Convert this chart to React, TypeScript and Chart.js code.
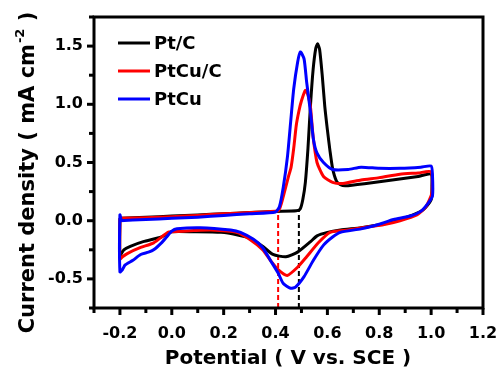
import React, { useEffect, useRef } from "react";
import { Chart, registerables } from "chart.js";

Chart.register(...registerables);

// Pt/C (black)
const ptcPotential = [-0.2, -0.1, 0.0, 0.1, 0.2, 0.3, 0.4, 0.48, 0.495, 0.505, 0.515, 0.525, 0.535, 0.545, 0.555, 0.562, 0.57, 0.58, 0.59, 0.6, 0.61, 0.62, 0.635, 0.65, 0.67, 0.75, 0.85, 0.95, 1.0, 1.003, 1.0, 0.97, 0.93, 0.85, 0.8, 0.73, 0.65, 0.6, 0.56, 0.535, 0.485, 0.44, 0.39, 0.35, 0.3, 0.25, 0.19, 0.085, 0.0, -0.04, -0.11, -0.16, -0.185, -0.2, -0.2];
const ptcCurrent = [0.02, 0.03, 0.04, 0.05, 0.06, 0.07, 0.08, 0.085, 0.1, 0.18, 0.33, 0.62, 1.0, 1.3, 1.48, 1.52, 1.47, 1.25, 0.98, 0.78, 0.6, 0.45, 0.34, 0.31, 0.3, 0.32, 0.35, 0.38, 0.4, 0.3, 0.18, 0.095, 0.05, -0.01, -0.035, -0.06, -0.08, -0.1, -0.13, -0.18, -0.27, -0.31, -0.29, -0.22, -0.15, -0.12, -0.1, -0.095, -0.095, -0.14, -0.18, -0.22, -0.25, -0.3, 0.02];

// PtCu/C (red)
const ptcucPotential = [-0.2, -0.1, 0.0, 0.1, 0.2, 0.3, 0.41, 0.42, 0.43, 0.45, 0.46, 0.47, 0.48, 0.49, 0.5, 0.515, 0.525, 0.535, 0.545, 0.56, 0.585, 0.62, 0.66, 0.73, 0.8, 0.88, 0.95, 1.0, 1.003, 0.98, 0.945, 0.88, 0.815, 0.765, 0.68, 0.61, 0.565, 0.52, 0.485, 0.445, 0.41, 0.38, 0.35, 0.3, 0.25, 0.15, 0.085, 0.0, -0.015, -0.07, -0.12, -0.17, -0.19, -0.2, -0.2];
const ptcucCurrent = [0.02, 0.025, 0.035, 0.045, 0.06, 0.07, 0.085, 0.13, 0.21, 0.38, 0.46, 0.62, 0.82, 0.94, 1.03, 1.12, 1.08, 0.97, 0.72, 0.5, 0.38, 0.33, 0.32, 0.35, 0.37, 0.4, 0.41, 0.42, 0.24, 0.12, 0.05, 0.0, -0.035, -0.05, -0.08, -0.1, -0.19, -0.31, -0.4, -0.47, -0.42, -0.34, -0.25, -0.16, -0.1, -0.08, -0.085, -0.095, -0.1, -0.19, -0.23, -0.28, -0.31, -0.33, 0.02];

// PtCu (blue)
const ptcuPotential = [-0.2, -0.1, 0.0, 0.1, 0.2, 0.3, 0.4, 0.415, 0.43, 0.446, 0.458, 0.47, 0.485, 0.496, 0.51, 0.52, 0.535, 0.546, 0.56, 0.585, 0.62, 0.68, 0.73, 0.8, 0.88, 0.96, 1.0, 1.005, 1.005, 0.985, 0.96, 0.92, 0.855, 0.8, 0.73, 0.65, 0.62, 0.585, 0.546, 0.51, 0.477, 0.458, 0.43, 0.41, 0.38, 0.35, 0.315, 0.265, 0.227, 0.11, 0.02, 0.0, -0.02, -0.04, -0.07, -0.09, -0.12, -0.15, -0.18, -0.19, -0.2, -0.2, -0.195];
const ptcuCurrent = [0.0, 0.01, 0.02, 0.03, 0.045, 0.06, 0.075, 0.12, 0.29, 0.55, 0.84, 1.13, 1.36, 1.45, 1.39, 1.19, 0.93, 0.7, 0.58, 0.5, 0.44, 0.44, 0.46, 0.45, 0.45, 0.46, 0.47, 0.4, 0.21, 0.14, 0.08, 0.04, 0.01, -0.03, -0.07, -0.1, -0.14, -0.21, -0.34, -0.48, -0.57, -0.58, -0.54, -0.45, -0.34, -0.23, -0.16, -0.1, -0.08, -0.06, -0.07, -0.09, -0.14, -0.19, -0.25, -0.27, -0.29, -0.34, -0.38, -0.42, -0.44, 0.05, 0.0];

// onset markers (dashed): red at PtCu/C, black at Pt/C
const onsetPotentials = [0.41, 0.49];
const onsetCurrents = [0.085, 0.085];
const onsetColors = ["#ff0000", "#000000"];

const seriesLabels = ["Pt/C", "PtCu/C", "PtCu"];
const seriesColors = ["#000000", "#ff0000", "#0000ff"];

const xMin = -0.3, xMax = 1.2, xStep = 0.1;
const yMin = -0.75, yMax = 1.75, yStep = 0.25;

const FONT = '"DejaVu Sans", sans-serif';

const toPoints = (xs: number[], ys: number[]) => xs.map((x, i) => ({ x, y: ys[i] }));

const isMajorX = (v: number) => Math.abs(Math.round(v * 10)) % 2 === 0 && v > xMin + 1e-6;
const isMajorY = (v: number) => Math.abs(Math.round(v * 4)) % 2 === 0;
const fmt = (v: number) => (Math.abs(v) < 1e-9 ? "0.0" : v.toFixed(1));

const decorPlugin = {
  id: "decor",
  afterDraw(chart: any) {
    const { ctx, chartArea } = chart;
    const xs = chart.scales.x;
    const ys = chart.scales.y;
    ctx.save();
    ctx.strokeStyle = "#000";
    ctx.lineWidth = 3;
    ctx.strokeRect(chartArea.left, chartArea.top, chartArea.right - chartArea.left, chartArea.bottom - chartArea.top);
    xs.ticks.forEach((t: any) => {
      const px = xs.getPixelForValue(t.value);
      const major = isMajorX(t.value);
      ctx.lineWidth = 3;
      ctx.beginPath();
      ctx.moveTo(px, chartArea.bottom);
      ctx.lineTo(px, chartArea.bottom + (major ? 7 : 5));
      ctx.stroke();
    });
    ys.ticks.forEach((t: any) => {
      const py = ys.getPixelForValue(t.value);
      const major = isMajorY(t.value);
      ctx.lineWidth = 3;
      ctx.beginPath();
      ctx.moveTo(chartArea.left, py);
      ctx.lineTo(chartArea.left - (major ? 7 : 5), py);
      ctx.stroke();
    });
    const legX = 118, legY = 43, legGap = 28;
    seriesLabels.forEach((lab, i) => {
      const y = legY + i * legGap;
      ctx.strokeStyle = seriesColors[i];
      ctx.lineWidth = 3;
      ctx.beginPath();
      ctx.moveTo(legX, y);
      ctx.lineTo(legX + 32, y);
      ctx.stroke();
      ctx.fillStyle = "#000";
      ctx.font = `bold 18px ${FONT}`;
      ctx.textAlign = "left";
      ctx.textBaseline = "middle";
      ctx.fillText(lab, legX + 36, y + 1);
    });
    ctx.fillStyle = "#000";
    ctx.font = `bold 20px ${FONT}`;
    ctx.textAlign = "center";
    ctx.textBaseline = "alphabetic";
    ctx.fillText("Potential ( V vs. SCE )", 288, 364);
    ctx.save();
    ctx.translate(34, 173);
    ctx.rotate(-Math.PI / 2);
    const p1 = "Current density ( mA cm";
    const sup = "-2";
    const p2 = " )";
    ctx.font = `bold 21px ${FONT}`;
    const w1 = ctx.measureText(p1).width;
    const w3 = ctx.measureText(p2).width;
    ctx.font = `bold 13px ${FONT}`;
    const w2 = ctx.measureText(sup).width;
    const x0 = -(w1 + w2 + w3) / 2;
    ctx.textAlign = "left";
    ctx.font = `bold 21px ${FONT}`;
    ctx.fillText(p1, x0, 0);
    ctx.font = `bold 13px ${FONT}`;
    ctx.fillText(sup, x0 + w1 + 1, -10);
    ctx.font = `bold 21px ${FONT}`;
    ctx.fillText(p2, x0 + w1 + w2 + 1, 0);
    ctx.restore();
    ctx.restore();
  },
};

export default function App() {
  const ref = useRef<HTMLCanvasElement>(null);
  useEffect(() => {
    if (!ref.current) return;
    const curve = (i: number, xs: number[], ys: number[], order: number) => ({
      label: seriesLabels[i],
      data: toPoints(xs, ys),
      showLine: true,
      borderColor: seriesColors[i],
      backgroundColor: seriesColors[i],
      borderWidth: 3,
      pointRadius: 0,
      tension: 0.2,
      fill: false,
      order,
    });
    const dashed = onsetPotentials.map((p, i) => ({
      label: "onset" + i,
      data: [
        { x: p, y: yMin },
        { x: p, y: onsetCurrents[i] },
      ],
      showLine: true,
      borderColor: onsetColors[i],
      borderWidth: 2,
      borderDash: [5, 3],
      pointRadius: 0,
      fill: false,
      order: 10,
    }));
    const chart = new Chart(ref.current, {
      type: "scatter",
      data: {
        datasets: [
          curve(0, ptcPotential, ptcCurrent, 3),
          curve(1, ptcucPotential, ptcucCurrent, 2),
          curve(2, ptcuPotential, ptcuCurrent, 1),
          ...dashed,
        ] as any,
      },
      options: {
        animation: false,
        responsive: false,
        devicePixelRatio: 1,
        layout: { padding: { top: 17, right: 15, left: 0, bottom: 0 } },
        plugins: { legend: { display: false }, tooltip: { enabled: false } },
        scales: {
          x: {
            type: "linear",
            min: xMin,
            max: xMax,
            grid: { display: false, drawTicks: false },
            border: { display: false },
            ticks: {
              stepSize: xStep,
              padding: 16,
              color: "#000",
              font: { family: FONT, weight: "bold", size: 16 },
              maxRotation: 0,
              autoSkip: false,
              callback: (v: any) => (isMajorX(Number(v)) ? fmt(Number(v)) : ""),
            },
            afterFit: (s: any) => {
              s.height = 62;
              s.paddingLeft = 0;
              s.paddingRight = 0;
            },
          },
          y: {
            type: "linear",
            min: yMin,
            max: yMax,
            grid: { display: false, drawTicks: false },
            border: { display: false },
            ticks: {
              stepSize: yStep,
              padding: 11,
              color: "#000",
              font: { family: FONT, weight: "bold", size: 16 },
              autoSkip: false,
              callback: (v: any) => (isMajorY(Number(v)) ? fmt(Number(v)) : ""),
            },
            afterFit: (s: any) => {
              s.width = 94;
              s.paddingTop = 0;
              s.paddingBottom = 0;
            },
          },
        },
      } as any,
      plugins: [decorPlugin],
    });
    return () => chart.destroy();
  }, []);
  return (
    <div style={{ position: "fixed", left: 0, top: 0, width: 498, height: 370, background: "#fff" }}>
      <canvas ref={ref} width={498} height={370} />
    </div>
  );
}
